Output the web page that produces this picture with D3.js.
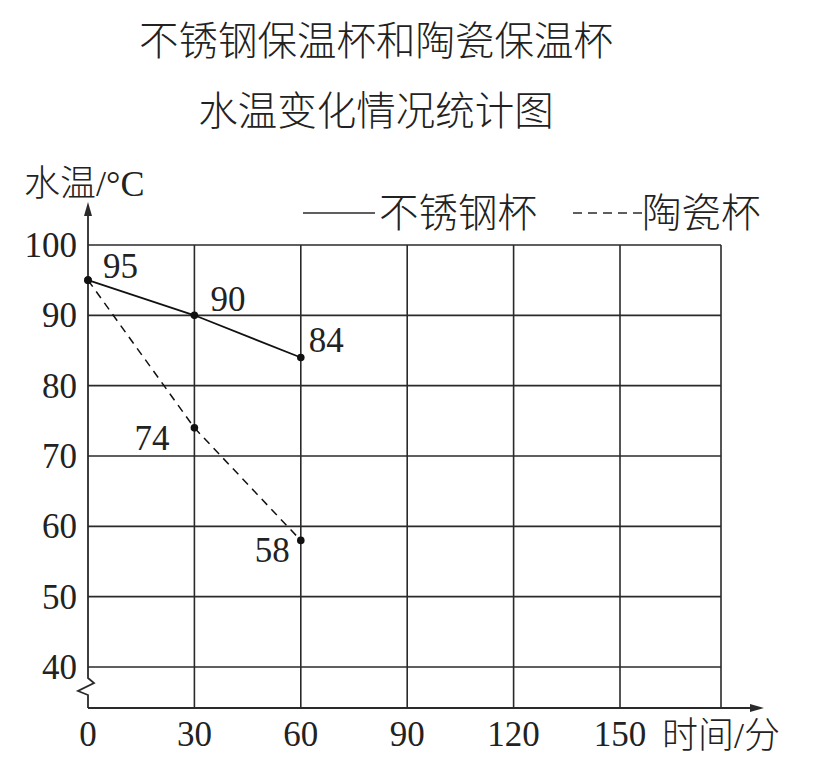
<!DOCTYPE html>
<html>
<head>
<meta charset="utf-8">
<script src="https://cdn.jsdelivr.net/npm/d3@7"></script>
<style>
  html, body { margin: 0; padding: 0; background: #fff; }
  svg { display: block; }
</style>
</head>
<body>
<svg id="chart" width="836" height="760"></svg>
<script>
// ---- data ----
const titleLines = ["不锈钢保温杯和陶瓷保温杯", "水温变化情况统计图"];
const times = [0, 30, 60];
const steelValues = [95, 90, 84];
const ceramicValues = [95, 74, 58];
const xTicks = [0, 30, 60, 90, 120, 150];
const yTicks = [40, 50, 60, 70, 80, 90, 100];
const seriesNames = ["不锈钢杯", "陶瓷杯"];
const yAxisLabel = "水温/°C";
const xAxisLabel = "时间/分";

// ---- layout ----
const svg = d3.select("#chart");
const serif = "'Liberation Serif', 'DejaVu Serif', serif";
const cjk = "'Noto Sans CJK SC', 'Noto Sans CJK JP', sans-serif";
const ink = "#2a2a2a";
const numSize = 35;

const x = d3.scaleLinear().domain([0, 150]).range([88, 620]);
const y = d3.scaleLinear().domain([40, 100]).range([667, 245]);
const gridRight = 721;
const axisY = 708;
const axisTopY = 202;
const axisRightX = 764;

// title
svg.selectAll("text.title").data(titleLines).enter().append("text")
  .attr("class", "title")
  .attr("x", 376)
  .attr("y", (d, i) => 55 + i * 70)
  .attr("text-anchor", "middle")
  .attr("font-family", cjk)
  .attr("font-weight", 300)
  .attr("font-size", 39.5)
  .attr("fill", "#222")
  .text(d => d);

const g = svg.append("g");

// horizontal gridlines
g.selectAll("line.hgrid").data(yTicks).enter().append("line")
  .attr("x1", x(0)).attr("x2", gridRight)
  .attr("y1", d => y(d)).attr("y2", d => y(d))
  .attr("stroke", ink).attr("stroke-width", 1.6);

// vertical gridlines
g.selectAll("line.vgrid").data(xTicks.slice(1)).enter().append("line")
  .attr("x1", d => x(d)).attr("x2", d => x(d))
  .attr("y1", y(100)).attr("y2", axisY)
  .attr("stroke", ink).attr("stroke-width", 1.6);
g.append("line")
  .attr("x1", gridRight).attr("x2", gridRight)
  .attr("y1", y(100)).attr("y2", axisY)
  .attr("stroke", ink).attr("stroke-width", 1.6);

// y axis with break
const x0 = x(0);
const yAxisPath = d3.path();
yAxisPath.moveTo(x0, axisTopY + 10);
yAxisPath.lineTo(x0, 678);
yAxisPath.lineTo(x0 + 6, 683);
yAxisPath.lineTo(x0 - 10, 691);
yAxisPath.lineTo(x0, 695);
yAxisPath.lineTo(x0, axisY);
g.append("path").attr("d", yAxisPath.toString())
  .attr("fill", "none").attr("stroke", ink).attr("stroke-width", 1.8);
g.append("path")
  .attr("d", `M${x0},${axisTopY} L${x0 - 4},${axisTopY + 14} L${x0 + 4},${axisTopY + 14} Z`)
  .attr("fill", ink);

// x axis
g.append("line")
  .attr("x1", x0).attr("x2", axisRightX - 10)
  .attr("y1", axisY).attr("y2", axisY)
  .attr("stroke", ink).attr("stroke-width", 1.8);
g.append("path")
  .attr("d", `M${axisRightX},${axisY} L${axisRightX - 14},${axisY - 4} L${axisRightX - 14},${axisY + 4} Z`)
  .attr("fill", ink);

// y tick labels
g.selectAll("text.ytick").data(yTicks).enter().append("text")
  .attr("x", 77).attr("y", d => y(d) + 12)
  .attr("text-anchor", "end")
  .attr("font-family", serif).attr("font-size", numSize).attr("fill", "#222")
  .text(d => d);

// x tick labels
g.selectAll("text.xtick").data(xTicks).enter().append("text")
  .attr("x", d => x(d)).attr("y", 746)
  .attr("text-anchor", "middle")
  .attr("font-family", serif).attr("font-size", numSize).attr("fill", "#222")
  .text(d => d);

// axis labels
const yl = svg.append("text").attr("x", 24).attr("y", 196)
  .attr("font-size", 36).attr("fill", "#222");
yl.append("tspan").attr("font-family", cjk).attr("font-weight", 300).text(yAxisLabel.slice(0, 2));
yl.append("tspan").attr("font-family", serif).text(yAxisLabel.slice(2));

const xl = svg.append("text").attr("x", 662).attr("y", 748)
  .attr("font-size", 36).attr("fill", "#222");
xl.append("tspan").attr("font-family", cjk).attr("font-weight", 300).text(xAxisLabel.slice(0, 2));
xl.append("tspan").attr("font-family", serif).text("/");
xl.append("tspan").attr("font-family", cjk).attr("font-weight", 300).text(xAxisLabel.slice(3));

// legend
svg.append("line").attr("x1", 303).attr("x2", 375).attr("y1", 213).attr("y2", 213)
  .attr("stroke", ink).attr("stroke-width", 1.6);
svg.append("text").attr("x", 379).attr("y", 227)
  .attr("font-family", cjk).attr("font-weight", 300).attr("font-size", 39.5).attr("fill", "#222")
  .text(seriesNames[0]);
svg.append("line").attr("x1", 573).attr("x2", 642).attr("y1", 213).attr("y2", 213)
  .attr("stroke", ink).attr("stroke-width", 1.6).attr("stroke-dasharray", "9,6");
svg.append("text").attr("x", 642).attr("y", 227)
  .attr("font-family", cjk).attr("font-weight", 300).attr("font-size", 39.5).attr("fill", "#222")
  .text(seriesNames[1]);

// lines
const steel = times.map((t, i) => ({ t, v: steelValues[i] }));
const ceramic = times.map((t, i) => ({ t, v: ceramicValues[i] }));
const line = d3.line().x(d => x(d.t)).y(d => y(d.v));

g.append("path").datum(steel).attr("d", line)
  .attr("fill", "none").attr("stroke", "#111").attr("stroke-width", 1.7);
g.append("path").datum(ceramic).attr("d", line)
  .attr("fill", "none").attr("stroke", "#111").attr("stroke-width", 1.5)
  .attr("stroke-dasharray", "8,6");

// points
g.selectAll("circle.pt").data(steel.concat(ceramic)).enter().append("circle")
  .attr("cx", d => x(d.t)).attr("cy", d => y(d.v)).attr("r", 3.8)
  .attr("fill", "#111");

// value labels
const steelOffsets = [[15, -2], [16, -4], [8, -6]];
const ceramicOffsets = [null, [-60, 22], [-46, 22]];
g.selectAll("text.sl").data(steel).enter().append("text")
  .attr("x", (d, i) => x(d.t) + steelOffsets[i][0])
  .attr("y", (d, i) => y(d.v) + steelOffsets[i][1])
  .attr("font-family", serif).attr("font-size", numSize).attr("fill", "#222")
  .text(d => d.v);
g.selectAll("text.cl").data(ceramic.slice(1)).enter().append("text")
  .attr("x", (d, i) => x(d.t) + ceramicOffsets[i + 1][0])
  .attr("y", (d, i) => y(d.v) + ceramicOffsets[i + 1][1])
  .attr("font-family", serif).attr("font-size", numSize).attr("fill", "#222")
  .text(d => d.v);
</script>
</body>
</html>
